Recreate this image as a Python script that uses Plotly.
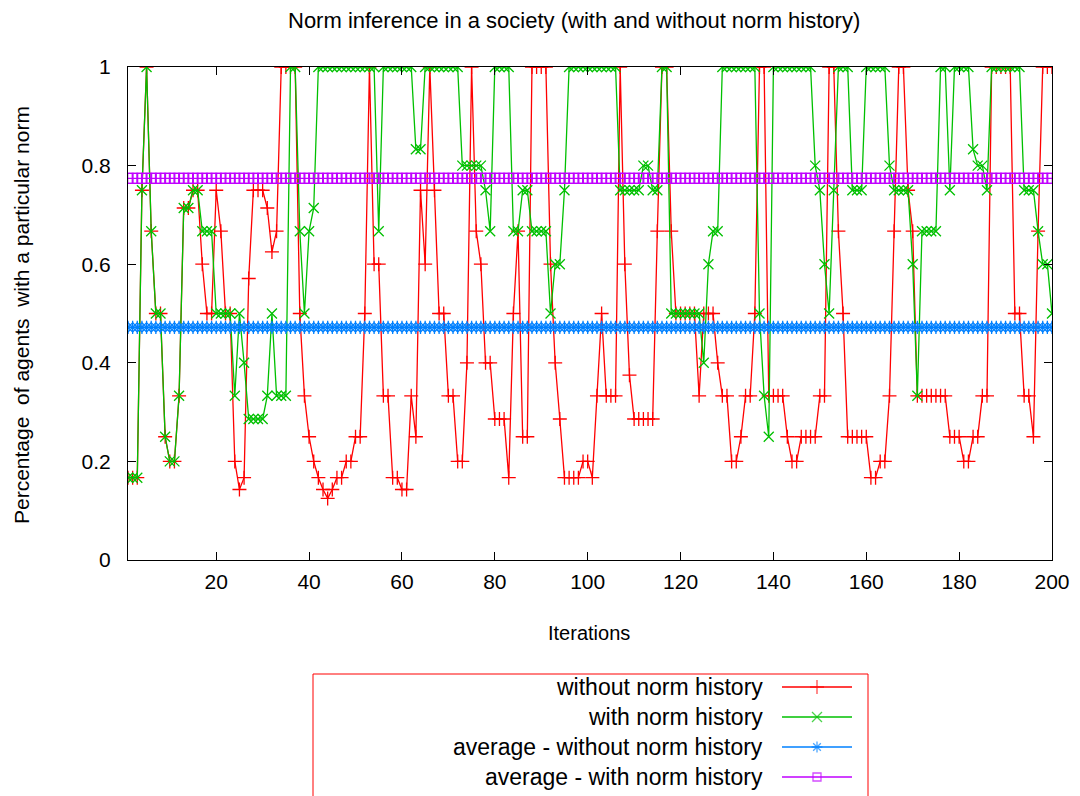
import plotly.graph_objects as go

# the page body has an 8px margin, so the figure is drawn 8px in from the
# window's top-left corner; the figure size and positions allow for that.
OFF = 8
W, H = 1080 - OFF, 796 - OFF

iterations = list(range(1, 201))

without_history = [
    0.167, 0.167, 0.167, 0.75, 1.0, 0.667, 0.5, 0.5, 0.25, 0.2,
    0.2, 0.333, 0.714, 0.714, 0.75, 0.75, 0.6, 0.5, 0.5, 0.75,
    0.667, 0.5, 0.5, 0.2, 0.143, 0.167, 0.571, 0.75, 0.75, 0.75,
    0.714, 0.625, 0.667, 1.0, 1.0, 1.0, 1.0, 0.5, 0.333, 0.25,
    0.2, 0.167, 0.143, 0.125, 0.143, 0.167, 0.167, 0.2, 0.2, 0.25,
    0.25, 0.5, 1.0, 0.6, 0.6, 0.333, 0.333, 0.167, 0.167, 0.143,
    0.143, 0.333, 0.25, 0.75, 0.6, 1.0, 0.75, 0.5, 0.5, 0.333,
    0.333, 0.2, 0.2, 0.4, 1.0, 0.667, 0.6, 0.4, 0.4, 0.286,
    0.286, 0.286, 0.167, 0.5, 0.667, 0.25, 0.25, 1.0, 1.0, 1.0,
    1.0, 0.6, 0.4, 0.286, 0.167, 0.167, 0.167, 0.167, 0.2, 0.2,
    0.167, 0.333, 0.5, 0.333, 0.333, 0.333, 1.0, 0.6, 0.375, 0.286,
    0.286, 0.286, 0.286, 0.286, 0.667, 1.0, 1.0, 0.667, 0.5, 0.5,
    0.5, 0.5, 0.5, 0.333, 0.5, 0.5, 0.5, 0.4, 0.333, 0.333,
    0.2, 0.2, 0.25, 0.333, 0.333, 0.5, 1.0, 1.0, 0.333, 0.333,
    0.333, 0.333, 0.25, 0.2, 0.2, 0.25, 0.25, 0.25, 0.25, 0.333,
    0.333, 1.0, 1.0, 0.667, 0.5, 0.25, 0.25, 0.25, 0.25, 0.25,
    0.167, 0.167, 0.2, 0.2, 0.333, 0.667, 1.0, 1.0, 0.75, 0.667,
    0.333, 0.333, 0.333, 0.333, 0.333, 0.333, 0.333, 0.25, 0.25, 0.25,
    0.2, 0.2, 0.25, 0.25, 0.333, 0.333, 1.0, 1.0, 1.0, 1.0,
    1.0, 0.5, 0.5, 0.333, 0.333, 0.25, 0.667, 1.0, 1.0, 1.0,
]

with_history = [
    0.167, 0.167, 0.167, 0.75, 1.0, 0.667, 0.5, 0.5, 0.25, 0.2,
    0.2, 0.333, 0.714, 0.714, 0.75, 0.75, 0.667, 0.667, 0.667, 0.5,
    0.5, 0.5, 0.5, 0.333, 0.5, 0.4, 0.286, 0.286, 0.286, 0.286,
    0.333, 0.5, 0.333, 0.333, 0.333, 1.0, 1.0, 0.667, 0.5, 0.667,
    0.714, 1.0, 1.0, 1.0, 1.0, 1.0, 1.0, 1.0, 1.0, 1.0,
    1.0, 1.0, 1.0, 1.0, 0.667, 1.0, 1.0, 1.0, 1.0, 1.0,
    1.0, 1.0, 0.833, 0.833, 1.0, 1.0, 1.0, 1.0, 1.0, 1.0,
    1.0, 1.0, 0.8, 0.8, 0.8, 0.8, 0.8, 0.75, 0.667, 1.0,
    1.0, 1.0, 1.0, 0.667, 0.667, 0.75, 0.75, 0.667, 0.667, 0.667,
    0.667, 0.5, 0.6, 0.6, 0.75, 1.0, 1.0, 1.0, 1.0, 1.0,
    1.0, 1.0, 1.0, 1.0, 1.0, 1.0, 0.75, 0.75, 0.75, 0.75,
    0.75, 0.8, 0.8, 0.75, 0.75, 1.0, 1.0, 0.5, 0.5, 0.5,
    0.5, 0.5, 0.5, 0.5, 0.4, 0.6, 0.667, 0.667, 1.0, 1.0,
    1.0, 1.0, 1.0, 1.0, 1.0, 1.0, 0.5, 0.333, 0.25, 1.0,
    1.0, 1.0, 1.0, 1.0, 1.0, 1.0, 1.0, 1.0, 0.8, 0.75,
    0.6, 0.5, 0.75, 1.0, 1.0, 1.0, 0.75, 0.75, 0.75, 1.0,
    1.0, 1.0, 1.0, 1.0, 0.8, 0.75, 0.75, 0.75, 0.75, 0.6,
    0.333, 0.667, 0.667, 0.667, 0.667, 1.0, 1.0, 0.75, 1.0, 1.0,
    1.0, 1.0, 0.833, 0.8, 0.8, 0.75, 1.0, 1.0, 1.0, 1.0,
    1.0, 1.0, 1.0, 0.75, 0.75, 0.75, 0.667, 0.6, 0.6, 0.5,
]

avg_without_value = 0.472
avg_with_value = 0.774
avg_without = [avg_without_value] * len(iterations)
avg_with = [avg_with_value] * len(iterations)

series_names = [
    "without norm history",
    "with norm history",
    "average - without norm history",
    "average - with norm history",
]
colors = ["#ff0000", "#00c000", "#0080ff", "#c000ff"]
symbols = ["cross-thin-open", "x-thin-open", "asterisk-open", "square-open"]
sizes = [10, 10, 11, 10]

y_ticks = [0, 0.2, 0.4, 0.6, 0.8, 1]
y_tick_text = ["0", "0.2", "0.4", "0.6", "0.8", "1"]
x_ticks = [20, 40, 60, 80, 100, 120, 140, 160, 180, 200]

FONT = "Liberation Sans, Arial, sans-serif"


def px(x):
    """window pixel x -> paper fraction"""
    return (x - OFF) / W


def py(y):
    """window pixel y -> paper fraction"""
    return 1 - (y - OFF) / H


fig = go.Figure()
data = [without_history, with_history, avg_without, avg_with]
for name, ys, c, s, sz in zip(series_names, data, colors, symbols, sizes):
    fig.add_trace(go.Scatter(
        x=iterations, y=ys, mode="lines+markers", name=name,
        line=dict(color=c, width=1.3),
        marker=dict(symbol=s, size=sz, color=c, line=dict(color=c, width=1.3)),
        showlegend=False, xaxis="x", yaxis="y",
    ))

# custom legend (text right-aligned, sample on the right, as in gnuplot)
leg_rows = [687, 717, 747, 777]
leg_line_x = [782, 817, 852]
leg_sizes = [10, 10, 9, 8]
for name, c, s, sz, ry in zip(series_names, colors, symbols, leg_sizes, leg_rows):
    fig.add_trace(go.Scatter(
        x=leg_line_x, y=[ry] * 3, mode="lines+markers",
        line=dict(color=c, width=1.3),
        marker=dict(symbol=s, size=[0, sz, 0], color=c, line=dict(color=c, width=1.3)),
        showlegend=False, hoverinfo="skip", xaxis="x2", yaxis="y2",
    ))
    fig.add_annotation(
        x=px(765), y=py(ry), xref="paper", yref="paper", text=name,
        showarrow=False, xanchor="right", yanchor="middle",
        font=dict(family=FONT, size=23, color="black"),
    )

fig.add_shape(type="rect", xref="paper", yref="paper",
              x0=px(313), x1=px(868), y0=py(812), y1=py(674),
              line=dict(color="#ff0000", width=1))

# titles
fig.add_annotation(x=px(574), y=py(21), xref="paper", yref="paper",
                   text="Norm inference in a society (with and without norm history)",
                   showarrow=False, xanchor="center", yanchor="middle",
                   font=dict(family=FONT, size=22, color="black"))
fig.add_annotation(x=px(589), y=py(633), xref="paper", yref="paper",
                   text="Iterations", showarrow=False, xanchor="center", yanchor="middle",
                   font=dict(family=FONT, size=20, color="black"))
fig.add_annotation(x=px(22), y=py(315), xref="paper", yref="paper",
                   text="Percentage  of agents  with a particular norm",
                   showarrow=False, textangle=-90, xanchor="center", yanchor="middle",
                   font=dict(family=FONT, size=21, color="black"))

fig.update_layout(
    width=W, height=H,
    margin=dict(l=0, r=0, t=0, b=0, pad=0, autoexpand=False),
    paper_bgcolor="white", plot_bgcolor="rgba(0,0,0,0)",
    showlegend=False,
    xaxis=dict(
        domain=[px(128), px(1052)], range=[1, 200],
        tickvals=x_ticks, ticks="inside", ticklen=8, tickcolor="black",
        showline=True, linecolor="black", linewidth=1, mirror="ticks",
        showgrid=False, zeroline=False, ticklabelstandoff=3, automargin=False,
        tickfont=dict(family=FONT, size=21, color="black"),
    ),
    yaxis=dict(
        domain=[py(560), py(67)], range=[0, 1],
        tickvals=y_ticks, ticktext=y_tick_text, ticks="inside", ticklen=8, tickcolor="black",
        showline=True, linecolor="black", linewidth=1, mirror="ticks",
        showgrid=False, zeroline=False, ticklabelstandoff=12, automargin=False,
        tickfont=dict(family=FONT, size=21, color="black"),
    ),
    xaxis2=dict(domain=[0, 1], range=[OFF, W + OFF], visible=False, anchor="y2",
                fixedrange=True, automargin=False),
    yaxis2=dict(domain=[0, 1], range=[H + OFF, OFF], visible=False, anchor="x2",
                fixedrange=True, automargin=False),
)

fig.write_html("out.html")
